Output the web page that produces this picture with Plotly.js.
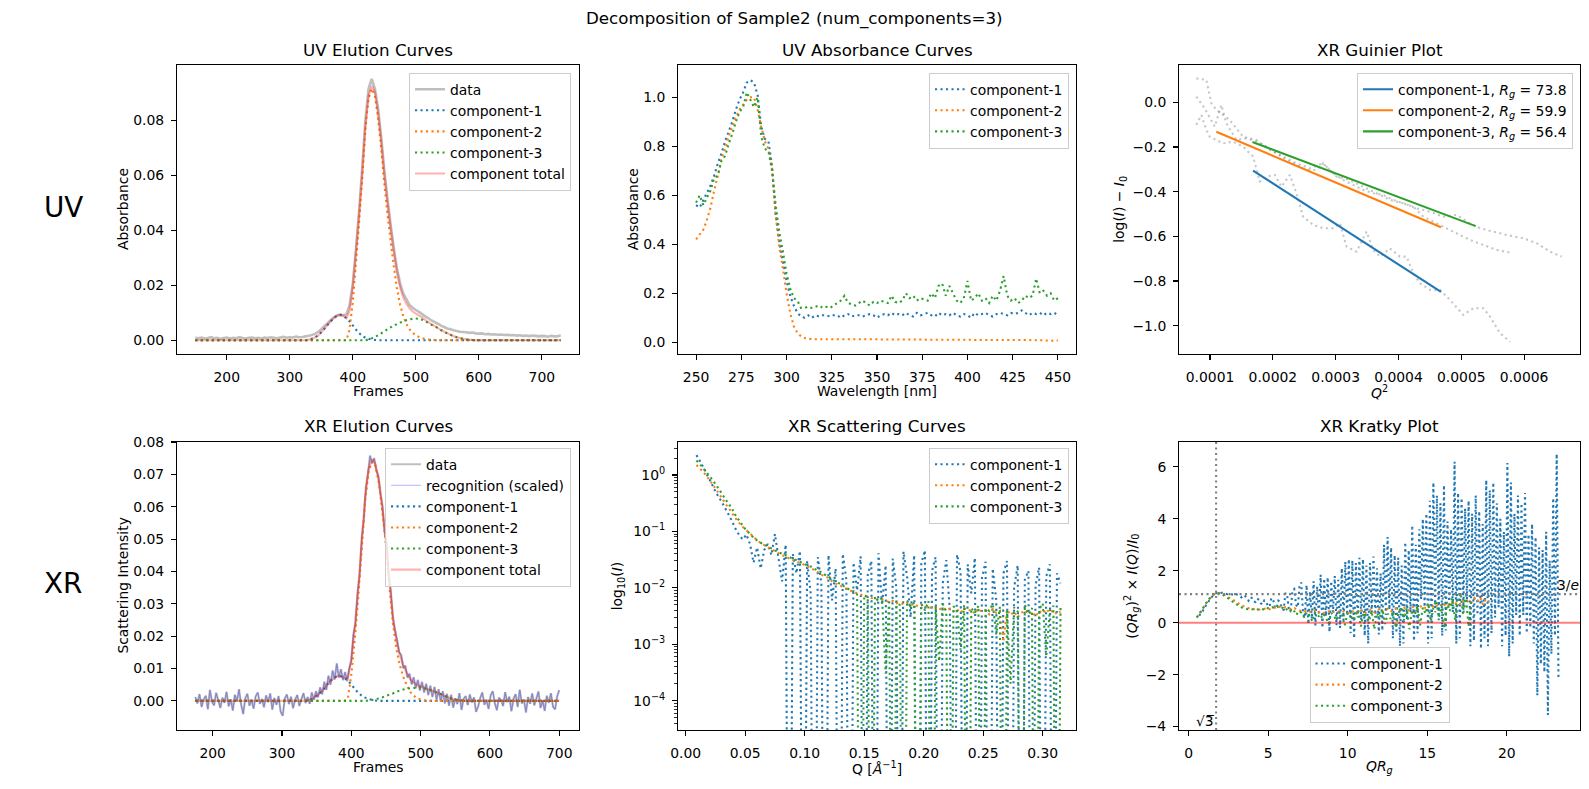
<!DOCTYPE html>
<html>
<head>
<meta charset="utf-8">
<script src="https://cdn.plot.ly/plotly-3.0.1.min.js"></script>
<style>
  html, body { margin: 0; padding: 0; background: #fff; }
  #chart { width: 1589px; height: 789px; }
</style>
</head>
<body>
<div id="chart"></div>
<script>
// ---------------------------------------------------------------
// Decomposition of Sample2 into three components (UV + X-ray)
// ---------------------------------------------------------------

// Evenly spaced sample positions (frames, wavelengths, Q values)
const grid = (start, step, n) => Array.from({ length: n }, (_, i) => +(start + i * step).toFixed(6));

// ---------- UV elution curves (frames 150..730, every 5th frame) ----------
const UV_FRAMES = grid(150, 5, 117);
const UV_DATA = [
  .0009,.0007,.0010,.0006,.0008,.0011,.0007,.0009,.0005,.0008,
  .0010,.0006,.0009,.0007,.0011,.0008,.0006,.0009,.0010,.0007,
  .0009,.0006,.0010,.0008,.0011,.0009,.0007,.0010,.0012,.0009,
  .0011,.0010,.0013,.0011,.0012,.0014,.0016,.0019,.0023,.0031,
  .0040,.0052,.0062,.0074,.0083,.0090,.0093,.0091,.0095,.0128,
  .0205,.0330,.0470,.0625,.0800,.0915,.0950,.0915,.0845,.0740,
  .0618,.0515,.0420,.0335,.0262,.0208,.0170,.0150,.0128,.0118,
  .0110,.0103,.0095,.0087,.0080,.0072,.0066,.0060,.0053,.0048,
  .0043,.0040,.0036,.0034,.0031,.0030,.0029,.0027,.0028,.0025,
  .0024,.0025,.0022,.0023,.0021,.0022,.0020,.0021,.0019,.0020,
  .0018,.0019,.0017,.0018,.0016,.0017,.0015,.0017,.0016,.0014,
  .0016,.0015,.0013,.0016,.0014,.0015,.0017
];
const UV_COMP1 = [
  0,0,0,0,0,0,0,0,0,0,
  0,0,0,0,0,0,0,0,0,0,
  0,0,0,0,0,0,0,0,0,0,
  0,0,0,0,0,0,.0002,.0005,.0010,.0018,
  .0029,.0042,.0056,.0069,.0081,.0089,.0092,.0089,.0080,.0068,
  .0054,.0039,.0026,.0016,.0009,.0005,.0003,.0001,0,0,
  0,0,0,0,0,0,0,0,0,0,
  0,0,0,0,0,0,0,0,0,0,
  0,0,0,0,0,0,0,0,0,0,
  0,0,0,0,0,0,0,0,0,0,
  0,0,0,0,0,0,0,0,0,0,
  0,0,0,0,0,0,0
];
const UV_COMP2 = [
  0,0,0,0,0,0,0,0,0,0,
  0,0,0,0,0,0,0,0,0,0,
  0,0,0,0,0,0,0,0,0,0,
  0,0,0,0,0,0,0,0,0,0,
  0,0,0,0,0,0,0,0,0,.004,
  .014,.028,.043,.059,.077,.088,.0915,.089,.081,.070,
  .057,.046,.036,.027,.019,.013,.0088,.0060,.0040,.0027,
  .0018,.0012,.0008,.0005,.0003,.0002,.0001,0,0,0,
  0,0,0,0,0,0,0,0,0,0,
  0,0,0,0,0,0,0,0,0,0,
  0,0,0,0,0,0,0,0,0,0,
  0,0,0,0,0,0,0
];
const UV_COMP3 = [
  0,0,0,0,0,0,0,0,0,0,
  0,0,0,0,0,0,0,0,0,0,
  0,0,0,0,0,0,0,0,0,0,
  0,0,0,0,0,0,0,0,0,0,
  0,0,0,0,0,0,0,0,0,0,
  0,0,0,0,0,.0003,.0007,.0012,.0018,.0025,
  .0032,.0040,.0047,.0053,.0059,.0064,.0069,.0073,.0076,.0078,
  .0079,.0078,.0075,.0069,.0063,.0056,.0051,.0044,.0037,.0031,
  .0025,.0020,.0015,.0011,.0008,.0005,.0003,.0002,.0001,0,
  0,0,0,0,0,0,0,0,0,0,
  0,0,0,0,0,0,0,0,0,0,
  0,0,0,0,0,0,0
];

// ---------- UV absorbance curves (250..450 nm, every 2 nm) ----------
const WAVELENGTH = grid(250, 2, 101);
const ABS_COMP1 = [
  .56,.55,.58,.61,.64,.68,.73,.77,.82,.86,
  .90,.95,.99,1.02,1.06,1.07,1.06,1.01,.88,.83,
  .82,.72,.52,.41,.33,.25,.19,.15,.12,.105,
  .10,.11,.10,.11,.105,.11,.11,.105,.11,.11,
  .10,.11,.115,.105,.11,.11,.105,.11,.115,.11,
  .10,.11,.115,.11,.12,.11,.115,.11,.12,.11,
  .105,.12,.11,.115,.12,.11,.105,.12,.11,.115,
  .11,.12,.11,.105,.115,.11,.10,.12,.11,.115,
  .12,.11,.105,.115,.12,.115,.11,.12,.115,.12,
  .13,.12,.11,.12,.115,.12,.11,.12,.115,.12,
  .11
];
const ABS_COMP2 = [
  .42,.44,.46,.50,.55,.62,.68,.75,.79,.84,
  .88,.92,.95,.97,.99,1.00,1.00,.95,.88,.82,
  .79,.71,.52,.39,.30,.20,.12,.065,.038,.024,
  .017,.014,.013,.012,.012,.012,.012,.012,.012,.012,
  .012,.012,.012,.012,.012,.012,.012,.012,.012,.012,
  .012,.011,.011,.011,.011,.011,.011,.011,.011,.011,
  .011,.011,.011,.010,.011,.010,.010,.010,.010,.010,
  .010,.010,.010,.010,.010,.010,.010,.009,.010,.009,
  .009,.009,.009,.009,.009,.009,.009,.009,.009,.009,
  .009,.009,.009,.008,.008,.008,.008,.007,.006,.007,
  .007
];
const ABS_COMP3 = [
  .57,.60,.56,.59,.62,.67,.68,.74,.76,.81,
  .85,.90,.94,.96,1.02,.99,.96,1.00,.84,.79,
  .78,.70,.56,.45,.37,.28,.22,.18,.17,.14,
  .14,.145,.14,.145,.15,.14,.145,.14,.15,.16,
  .17,.19,.16,.155,.15,.16,.17,.16,.15,.165,
  .16,.17,.165,.16,.19,.165,.16,.17,.20,.18,
  .19,.17,.18,.175,.17,.20,.18,.23,.24,.19,
  .23,.20,.17,.16,.18,.25,.17,.18,.20,.17,
  .18,.16,.19,.17,.21,.27,.19,.17,.18,.16,
  .17,.19,.18,.19,.26,.20,.21,.19,.20,.17,
  .18
];

// ---------- XR Guinier plot ----------
const RG = [73.8, 59.9, 56.4];                       // radius of gyration per component
const FIT_QSQ_START = [1.685e-4, 1.10e-4, 1.675e-4]; // Guinier fitting interval (Q^2)
const FIT_QSQ_END   = [4.677e-4, 4.677e-4, 5.23e-4];

const GUINIER1_QSQ = [7.82e-5,8.62e-5,9.42e-5,9.95e-5,1.101e-4,1.207e-4,1.367e-4,1.526e-4,1.685e-4,1.792e-4,
  1.898e-4,2.031e-4,2.137e-4,2.270e-4,2.376e-4,2.482e-4,2.642e-4,2.801e-4,2.961e-4,3.067e-4,
  3.173e-4,3.333e-4,3.492e-4,3.598e-4,3.705e-4,3.864e-4,4.023e-4,4.130e-4,4.236e-4,4.342e-4,
  4.502e-4,4.661e-4,4.820e-4,5.033e-4,5.192e-4,5.352e-4,5.458e-4,5.617e-4,5.777e-4];
const GUINIER1_LOG = [-0.101,-0.057,-0.124,-0.154,-0.169,-0.184,-0.176,-0.199,-0.243,-0.355,
  -0.333,-0.325,-0.378,-0.325,-0.407,-0.512,-0.549,-0.564,-0.564,-0.542,
  -0.646,-0.669,-0.579,-0.661,-0.691,-0.654,-0.691,-0.691,-0.766,-0.810,
  -0.840,-0.840,-0.885,-0.952,-0.922,-0.922,-0.960,-1.034,-1.072];
const GUINIER2_QSQ = [7.82e-5,9.15e-5,1.074e-4,1.181e-4,1.260e-4,1.420e-4,1.579e-4,1.739e-4,1.898e-4,2.057e-4,
  2.217e-4,2.376e-4,2.536e-4,2.695e-4,2.801e-4,2.961e-4,3.120e-4,3.279e-4,3.439e-4,3.598e-4,
  3.758e-4,3.917e-4,4.077e-4,4.236e-4,4.395e-4,4.555e-4,4.714e-4,4.927e-4,5.139e-4,5.352e-4,
  5.564e-4,5.777e-4];
const GUINIER2_LOG = [0.025,-0.027,-0.109,-0.012,-0.094,-0.169,-0.161,-0.176,-0.199,-0.228,
  -0.258,-0.281,-0.303,-0.303,-0.273,-0.318,-0.348,-0.370,-0.393,-0.407,
  -0.415,-0.437,-0.452,-0.467,-0.512,-0.534,-0.557,-0.587,-0.616,-0.639,
  -0.661,-0.673];
const GUINIER3_QSQ = [7.82e-5,9.42e-5,1.021e-4,1.101e-4,1.313e-4,1.526e-4,1.739e-4,1.951e-4,2.164e-4,2.376e-4,
  2.589e-4,2.801e-4,3.014e-4,3.226e-4,3.439e-4,3.651e-4,3.864e-4,4.077e-4,4.289e-4,4.502e-4,
  4.714e-4,4.927e-4,5.139e-4,5.299e-4,5.511e-4,5.724e-4,5.989e-4,6.202e-4,6.415e-4,6.601e-4];
const GUINIER3_LOG = [0.107,0.100,-0.004,-0.034,-0.079,-0.154,-0.169,-0.213,-0.243,-0.273,
  -0.296,-0.273,-0.333,-0.348,-0.378,-0.407,-0.437,-0.452,-0.475,-0.490,
  -0.512,-0.504,-0.542,-0.564,-0.579,-0.594,-0.609,-0.631,-0.669,-0.691];

// ---------- XR elution curves ----------
const XR_FRAMES = grid(175, 5, 106);        // component model frames 175..700
const XR_COMP1 = [
  0,0,0,0,0,0,0,0,0,0,
  0,0,0,0,0,0,0,0,0,0,
  0,0,0,0,0,0,0,0,0,0,
  0,0,.0001,.0003,.0008,.0016,.0025,.0036,.0050,.0062,
  .0071,.0077,.0076,.0071,.0063,.0051,.0037,.0025,.0016,.0010,
  .0006,.0003,.0001,0,0,0,0,0,0,0,
  0,0,0,0,0,0,0,0,0,0,
  0,0,0,0,0,0,0,0,0,0,
  0,0,0,0,0,0,0,0,0,0,
  0,0,0,0,0,0,0,0,0,0,
  0,0,0,0,0,0
];
const XR_COMP2 = [
  0,0,0,0,0,0,0,0,0,0,
  0,0,0,0,0,0,0,0,0,0,
  0,0,0,0,0,0,0,0,0,0,
  0,0,0,0,0,0,0,0,0,0,
  0,0,0,0,.0008,.008,.019,.032,.047,.062,
  .071,.074,.0725,.067,.058,.048,.035,.024,.016,.011,
  .0075,.0048,.0028,.0016,.0008,.0004,.0002,0,0,0,
  0,0,0,0,0,0,0,0,0,0,
  0,0,0,0,0,0,0,0,0,0,
  0,0,0,0,0,0,0,0,0,0,
  0,0,0,0,0,0
];
const XR_COMP3 = [
  0,0,0,0,0,0,0,0,0,0,
  0,0,0,0,0,0,0,0,0,0,
  0,0,0,0,0,0,0,0,0,0,
  0,0,0,0,0,0,0,0,0,0,
  0,0,0,0,0,0,0,0,0,0,
  .0001,.0003,.0005,.0008,.0011,.0015,.0019,.0023,.0028,.0032,
  .0035,.0038,.0039,.0040,.0041,.0041,.0039,.0036,.0033,.0029,
  .0024,.0020,.0015,.0011,.0007,.0004,.0002,.0001,0,0,
  0,0,0,0,0,0,0,0,0,0,
  0,0,0,0,0,0,0,0,0,0,
  0,0,0,0,0,0
];
const XR_DATA_FRAMES = grid(175, 3, 176);   // measured frames 175..700
const XR_DATA = [
  .0012,-.0008,.0021,-.0019,.0004,.0016,-.0026,.0034,-.0003,-.0014,
  .0025,.0002,-.0022,.0010,-.0006,.0028,-.0017,.0005,-.0030,.0019,
  -.0002,.0036,-.0011,-.0041,.0008,.0022,-.0015,.0003,-.0024,.0014,
  .0026,-.0009,.0006,-.0020,.0017,-.0004,.0023,-.0027,.0009,-.0012,
  .0015,-.0033,-.0046,.0007,.0020,-.0010,.0013,-.0023,.0004,.0018,
  -.0016,.0005,.0024,-.0007,.0012,-.0009,.0026,.0003,.0030,.0011,
  .0042,.0020,.0059,.0034,.0078,.0050,.0094,.0066,.0116,.0072,
  .0098,.0064,.0089,.0061,.0100,.0122,.0206,.0239,.0335,.0388,
  .0503,.0560,.0660,.0702,.0758,.0734,.0750,.0712,.0695,.0640,
  .0602,.0521,.0489,.0386,.0340,.0254,.0218,.0189,.0150,.0142,
  .0101,.0109,.0072,.0084,.0051,.0073,.0039,.0065,.0032,.0059,
  .0026,.0053,.0018,.0047,.0012,.0043,.0004,.0036,-.0003,.0030,
  -.0008,.0022,-.0015,.0019,-.0021,.0008,-.0010,.0024,-.0028,.0006,
  .0015,-.0013,.0020,-.0005,.0011,-.0034,-.0018,.0009,.0026,-.0012,
  .0003,-.0025,.0017,.0030,-.0007,-.0029,.0010,.0002,-.0016,.0027,
  -.0004,.0013,-.0032,.0006,.0021,-.0019,.0035,-.0008,.0004,-.0036,
  .0012,-.0009,.0023,-.0014,.0007,.0029,-.0022,.0001,-.0031,.0016,
  -.0006,.0024,-.0018,-.0026,.0014,.0033
];

// ---------- XR scattering curves I(Q), Q = 0.009..0.315 1/Å ----------
const Q = grid(0.009, 0.003, 103);
const SCAT_COMP1 = [
  2.25,1.75,1.35,1.00,0.76,0.56,0.43,0.34,0.26,0.20,
  0.15,0.11,0.085,0.072,0.088,0.060,0.028,0.052,0.022,0.047,
  0.060,0.038,0.090,0.033,0.013,0.058,-0.006,0.040,0.018,0.045,
  -0.012,0.030,0.008,-0.004,0.035,0.012,-0.015,0.038,0.006,0.022,
  -0.009,0.040,0.014,-0.020,0.028,0.009,0.036,-0.007,0.017,0.030,
  -0.018,0.041,0.005,0.025,-0.011,0.033,0.010,-0.022,0.044,0.016,
  0.003,0.038,-0.013,0.027,0.046,-0.006,0.020,0.035,-0.025,0.012,
  0.031,0.004,-0.016,0.039,0.019,-0.009,0.026,0.008,0.034,-0.020,
  0.015,0.029,-0.005,0.022,0.006,-0.014,0.018,0.030,-0.028,0.010,
  0.025,-0.008,0.014,0.020,-0.017,0.011,0.023,-0.004,0.016,0.026,
  -0.021,0.018,0.012
];
const SCAT_COMP2 = [
  1.50,1.30,1.12,0.93,0.76,0.62,0.50,0.40,0.32,0.26,
  0.21,0.17,0.14,0.12,0.105,0.092,0.080,0.070,0.062,0.057,
  0.052,0.048,0.045,0.041,0.038,0.036,0.033,0.031,0.029,0.028,
  0.026,0.024,0.022,0.021,0.019,0.017,0.016,0.015,0.013,0.012,
  0.011,0.0105,0.0098,0.0090,0.0085,0.0080,0.0076,0.0072,0.0070,0.0066,
  0.0064,0.0061,0.0063,0.0058,0.0056,0.0059,0.0053,0.0055,0.0051,0.0054,
  0.0049,0.0052,0.0047,0.0050,0.0045,0.0048,0.0043,0.0046,0.0041,0.0045,
  0.0040,0.0043,0.0038,0.0042,0.0036,0.0044,0.0039,0.0041,0.0035,0.0043,
  0.0037,0.0040,0.0034,0.0042,0.0036,0.0039,0.0011,0.0041,0.0033,0.0038,
  0.0030,0.0036,0.0040,0.0034,0.0038,0.0031,0.0039,0.0035,0.0042,0.0036,
  0.0040,0.0034,0.0038
];
const SCAT_COMP3 = [
  1.80,1.55,1.30,1.08,0.90,0.74,0.60,0.48,0.38,0.31,
  0.25,0.19,0.155,0.125,0.105,0.090,0.078,0.069,0.063,0.058,
  0.054,0.050,0.046,0.043,0.040,0.038,0.035,0.033,0.031,0.029,
  0.027,0.025,0.024,0.022,0.020,0.019,0.017,0.016,0.014,0.013,
  0.012,0.011,0.0100,0.0092,0.0087,0.0080,-0.002,0.0075,0.0068,-0.001,
  0.0070,0.0058,0.0066,0.0003,0.0062,-0.003,0.0058,0.0049,-0.002,0.0060,
  0.0046,0.0055,-0.001,0.0052,0.0040,0.0058,-0.003,0.0048,0.0005,0.0052,
  0.0038,-0.002,0.0047,0.0041,0.0008,0.0050,-0.001,0.0044,0.0036,0.0048,
  -0.002,0.0043,0.0039,0.0052,0.0015,0.0046,-0.002,0.0040,0.0002,0.0045,
  0.0038,-0.001,0.0050,0.0034,0.0044,-0.002,0.0041,0.0053,0.0006,0.0040,
  0.0048,-0.001,0.0044
];

// ---------- XR Kratky plot, (QRg)^2 I(Q)/I0 ----------
const KRATKY_Q1 = grid(0.009, 0.0015, 205);  // component-1 is sampled more finely
const KRATKY_COMP1 = [
  0.27,0.36,0.45,0.56,0.68,0.78,0.88,0.97,1.05,1.11,1.15,1.17,1.16,1.15,1.13,1.12,1.10,1.13,1.12,1.08,
  1.05,1.10,1.08,1.02,0.98,1.06,1.05,0.92,0.85,0.99,0.95,0.82,0.80,0.93,0.88,0.75,0.70,0.86,0.82,0.66,
  0.62,0.95,0.90,0.60,0.55,0.85,0.80,0.52,0.50,1.15,1.05,0.48,0.45,1.25,1.30,0.70,0.60,1.40,1.55,0.35,
  0.20,1.45,-0.05,1.20,0.15,1.60,-0.10,1.40,0.30,1.85,-0.20,1.70,0.25,1.75,-0.35,1.60,0.40,1.80,-0.10,1.65,
  -0.20,2.10,0.10,2.35,0.30,2.45,-0.40,2.40,-0.60,2.30,0.20,2.50,0.10,2.45,-0.50,2.20,-0.80,2.30,0.40,2.55,
  0.20,2.10,-0.45,1.90,-0.30,3.00,0.30,3.30,0.50,2.90,-0.60,2.60,-0.40,2.50,-0.90,2.20,-0.80,3.10,0.10,2.80,
  0.40,3.75,-0.70,3.00,-0.40,3.60,0.90,4.00,0.60,4.20,-0.80,4.70,-0.60,5.40,0.40,4.90,0.10,4.60,-0.50,5.30,
  -0.30,3.90,0.60,3.60,0.40,6.20,-0.80,5.00,-0.60,4.80,0.50,4.40,0.80,4.70,-0.90,4.20,-0.70,4.90,0.30,4.30,
  -1.00,3.80,-0.60,5.50,-0.90,5.10,-0.40,5.40,0.20,4.60,0.60,4.00,-0.90,3.50,-0.50,6.15,-1.30,5.40,-0.80,4.20,
  0.30,4.90,-0.50,4.60,0.30,5.00,-0.40,3.40,-0.20,3.80,-0.80,3.30,-2.80,2.90,-1.60,2.80,-1.90,3.50,-3.55,2.40,
  -1.20,4.80,-0.50,6.50,-2.20
];
const KRATKY_COMP2 = [
  0.22,0.38,0.55,0.72,0.88,1.00,1.10,1.15,1.14,1.10,
  1.05,0.98,0.92,0.85,0.78,0.70,0.65,0.60,0.56,0.55,
  0.52,0.53,0.50,0.52,0.55,0.50,0.56,0.58,0.55,0.62,
  0.57,0.60,0.55,0.52,0.56,0.50,0.46,0.50,0.42,0.45,
  0.40,0.48,0.38,0.43,0.36,0.41,0.44,0.37,0.43,0.47,
  0.38,0.42,0.46,0.36,0.40,0.48,0.37,0.44,0.50,0.39,
  0.45,0.52,0.40,0.47,0.54,0.42,0.50,0.56,0.44,0.51,
  0.58,0.46,0.55,0.60,0.48,0.58,0.63,0.50,0.62,0.66,
  0.53,0.65,0.70,0.56,0.68,0.72,0.60,0.75,0.66,0.79,
  0.68,0.80,0.72,0.85,0.75,0.88,0.78,0.95,0.82,0.98,
  0.70,0.92,0.80
];
const KRATKY_COMP3 = [
  0.20,0.34,0.50,0.67,0.83,0.97,1.07,1.13,1.14,1.11,
  1.06,0.99,0.92,0.84,0.76,0.70,0.63,0.58,0.55,0.52,
  0.50,0.52,0.49,0.52,0.55,0.50,0.57,0.55,0.60,0.56,
  0.62,0.54,0.58,0.48,0.56,0.44,0.50,0.30,0.45,0.38,
  0.20,0.42,0.28,0.05,0.40,0.30,0.15,0.35,0.22,-0.05,
  0.38,0.25,0.10,0.42,0.30,-0.10,0.35,0.45,0.08,0.30,
  0.50,-0.15,0.40,0.25,0.05,0.45,-0.25,0.38,0.20,0.52,
  -0.05,0.35,0.15,0.45,-0.20,0.40,0.60,0.10,0.55,-0.25,
  0.50,0.30,0.65,-0.10,0.58,0.35,0.75,0.05,0.62,0.85,
  0.20,0.70,-0.20,0.80,0.45,0.95,0.10,0.85,1.15,0.30,
  1.05,-0.15,0.90
];

// ---------- tick positions ----------
const FRAME_TICKS = [200, 300, 400, 500, 600, 700];
const UV_ELUTION_YTICKS = [0, 0.02, 0.04, 0.06, 0.08];
const WAVELENGTH_TICKS = [250, 275, 300, 325, 350, 375, 400, 425, 450];
const ABSORBANCE_TICKS = [0, 0.2, 0.4, 0.6, 0.8, 1.0];
const QSQ_TICKS = [0.0001, 0.0002, 0.0003, 0.0004, 0.0005, 0.0006];
const GUINIER_YTICKS = [-1.0, -0.8, -0.6, -0.4, -0.2, 0.0];
const XR_ELUTION_YTICKS = [0, 0.01, 0.02, 0.03, 0.04, 0.05, 0.06, 0.07, 0.08];
const Q_TICKS = [0, 0.05, 0.10, 0.15, 0.20, 0.25, 0.30];
const LOG_EXPONENTS = [-4, -3, -2, -1, 0];
const QRG_TICKS = [0, 5, 10, 15, 20];
const KRATKY_YTICKS = [-4, -2, 0, 2, 4, 6];

const COMPONENT_NAMES = ['component-1', 'component-2', 'component-3'];

// ---------------------------------------------------------------
// Figure geometry and styling
// ---------------------------------------------------------------
const W = 1589, H = 789;
const FONT = 'DejaVu Sans, Verdana, sans-serif';
const COLORS = ['#1f77b4', '#ff7f0e', '#2ca02c'];
const DOT = '2.1px,3.4px';
const TICK_SIZE = 13.9, TITLE_SIZE = 16.7;

const px = v => v / W;
const py = v => 1 - v / H;

// axes boxes in pixels: [left, right, top, bottom]
const BOX = {
  uvElution:  [177, 579, 65, 354],
  uvAbs:      [678, 1076, 65, 354],
  guinier:    [1179, 1580, 65, 354],
  xrElution:  [177, 579, 442, 730],
  xrScatter:  [678, 1076, 442, 730],
  kratky:     [1179, 1580, 442, 730]
};

const sum3 = (a, b, c) => a.map((v, i) => v + b[i] + c[i]);
const positiveOrFloor = arr => arr.map(v => (v > 0 ? v : 1e-12)); // log axis clips non-positive values
const times = (arr, k) => arr.map(v => v * k);

function line(x, y, name, color, width, axes, legend, opts) {
  return Object.assign({
    type: 'scatter', mode: 'lines', x, y, name,
    line: { color, width, simplify: false },
    xaxis: axes[0], yaxis: axes[1], legend, hoverinfo: 'skip'
  }, opts || {});
}
function dotted(x, y, name, color, axes, legend, opts) {
  const t = line(x, y, name, color, 2.08, axes, legend, opts);
  t.line.dash = DOT;
  return t;
}

const traces = [];

// UV elution
const uvA = ['x', 'y'];
traces.push(line(UV_FRAMES, UV_DATA, 'data', 'rgba(128,128,128,0.5)', 2.6, uvA, 'legend'));
[UV_COMP1, UV_COMP2, UV_COMP3].forEach((c, i) =>
  traces.push(dotted(UV_FRAMES, c, COMPONENT_NAMES[i], COLORS[i], uvA, 'legend')));
traces.push(line(UV_FRAMES, sum3(UV_COMP1, UV_COMP2, UV_COMP3), 'component total', 'rgba(255,0,0,0.3)', 2.2, uvA, 'legend'));

// UV absorbance
const absA = ['x2', 'y2'];
[ABS_COMP1, ABS_COMP2, ABS_COMP3].forEach((c, i) =>
  traces.push(dotted(WAVELENGTH, c, COMPONENT_NAMES[i], COLORS[i], absA, 'legend2')));

// Guinier: measured points then fitted lines ln I = -Rg^2 Q^2 / 3
const gA = ['x3', 'y3'];
[[GUINIER1_QSQ, GUINIER1_LOG], [GUINIER2_QSQ, GUINIER2_LOG], [GUINIER3_QSQ, GUINIER3_LOG]].forEach(([x, y]) =>
  traces.push(dotted(x, y, 'guinier data', 'rgba(128,128,128,0.45)', gA, 'legend3', { showlegend: false })));
RG.forEach((rg, i) => {
  const xs = [FIT_QSQ_START[i], FIT_QSQ_END[i]];
  traces.push(line(xs, xs.map(q2 => -rg * rg * q2 / 3),
    COMPONENT_NAMES[i] + ', <i>R</i><sub><i>g</i></sub> = ' + rg.toFixed(1), COLORS[i], 2.08, gA, 'legend3'));
});

// XR elution
const xeA = ['x4', 'y4'];
traces.push(line(XR_DATA_FRAMES, XR_DATA, 'data', 'rgba(128,128,128,0.5)', 2.2, xeA, 'legend4'));
traces.push(line(XR_DATA_FRAMES, XR_DATA, 'recognition (scaled)', 'rgba(0,0,255,0.3)', 1.1, xeA, 'legend4'));
[XR_COMP1, XR_COMP2, XR_COMP3].forEach((c, i) =>
  traces.push(dotted(XR_FRAMES, c, COMPONENT_NAMES[i], COLORS[i], xeA, 'legend4')));
traces.push(line(XR_FRAMES, sum3(XR_COMP1, XR_COMP2, XR_COMP3), 'component total', 'rgba(255,0,0,0.3)', 2.2, xeA, 'legend4'));

// XR scattering
const xsA = ['x5', 'y5'];
[SCAT_COMP1, SCAT_COMP2, SCAT_COMP3].forEach((c, i) =>
  traces.push(dotted(Q, positiveOrFloor(c), COMPONENT_NAMES[i], COLORS[i], xsA, 'legend5')));

// Kratky (x = Q * Rg)
const kA = ['x6', 'y6'];
traces.push(dotted(times(KRATKY_Q1, RG[0]), KRATKY_COMP1, COMPONENT_NAMES[0], COLORS[0], kA, 'legend6'));
traces.push(dotted(times(Q, RG[1]), KRATKY_COMP2, COMPONENT_NAMES[1], COLORS[1], kA, 'legend6'));
traces.push(dotted(times(Q, RG[2]), KRATKY_COMP3, COMPONENT_NAMES[2], COLORS[2], kA, 'legend6'));

// ---------------------------------------------------------------
// Axes
// ---------------------------------------------------------------
function axis(box, horizontal, anchor, extra) {
  const dom = horizontal ? [px(box[0]), px(box[1])] : [py(box[3]), py(box[2])];
  return Object.assign({
    domain: dom, anchor,
    showline: true, mirror: true, linecolor: '#000', linewidth: 1.1,
    ticks: 'outside', ticklen: 4.9, tickwidth: 1.1, tickcolor: '#000',
    ticklabelstandoff: horizontal ? 5 : 4,
    showgrid: false, zeroline: false, fixedrange: true,
    tickmode: 'array',
    tickfont: { family: FONT, size: TICK_SIZE, color: '#000' }
  }, extra);
}

const minorLog = [];
for (let e = -5; e <= 0; e++) for (let m = 2; m <= 9; m++) minorLog.push(m * Math.pow(10, e));

const layout = {
  width: W, height: H,
  margin: { l: 0, r: 0, t: 0, b: 0 },
  paper_bgcolor: '#fff', plot_bgcolor: '#fff',
  showlegend: true,
  font: { family: FONT, color: '#000' },

  xaxis:  axis(BOX.uvElution, true, 'y',  { range: [121, 759], tickvals: FRAME_TICKS }),
  yaxis:  axis(BOX.uvElution, false, 'x', { range: [-0.005, 0.1001], tickvals: UV_ELUTION_YTICKS, tickformat: '.2f' }),
  xaxis2: axis(BOX.uvAbs, true, 'y2',  { range: [240, 460], tickvals: WAVELENGTH_TICKS }),
  yaxis2: axis(BOX.uvAbs, false, 'x2', { range: [-0.048, 1.132], tickvals: ABSORBANCE_TICKS, tickformat: '.1f' }),
  xaxis3: axis(BOX.guinier, true, 'y3',  { range: [0.0000506, 0.000689], tickvals: QSQ_TICKS, tickformat: '.4f' }),
  yaxis3: axis(BOX.guinier, false, 'x3', { range: [-1.127, 0.167], tickvals: GUINIER_YTICKS, tickformat: '.1f' }),
  xaxis4: axis(BOX.xrElution, true, 'y4',  { range: [148.5, 728.5], tickvals: FRAME_TICKS }),
  yaxis4: axis(BOX.xrElution, false, 'x4', { range: [-0.009, 0.08], tickvals: XR_ELUTION_YTICKS, tickformat: '.2f' }),
  xaxis5: axis(BOX.xrScatter, true, 'y5',  { range: [-0.0065, 0.328], tickvals: Q_TICKS, tickformat: '.2f' }),
  yaxis5: axis(BOX.xrScatter, false, 'x5', {
    type: 'log', range: [-4.52, 0.585],
    tickvals: LOG_EXPONENTS.map(e => Math.pow(10, e)),
    ticktext: LOG_EXPONENTS.map(e => '10<sup>' + (e < 0 ? '\u2212' + (-e) : e) + '</sup>'),
    minor: { tickmode: 'array', tickvals: minorLog, ticks: 'outside', ticklen: 2.8, tickwidth: 0.8, tickcolor: '#000', showgrid: false }
  }),
  xaxis6: axis(BOX.kratky, true, 'y6',  { range: [-0.6, 24.6], tickvals: QRG_TICKS }),
  yaxis6: axis(BOX.kratky, false, 'x6', { range: [-4.13, 6.96], tickvals: KRATKY_YTICKS }),

  shapes: [],
  annotations: []
};

// Legends
function legendAt(xPix, yPix, xanchor, yanchor) {
  return {
    x: px(xPix), y: py(yPix), xref: 'paper', yref: 'paper', xanchor, yanchor,
    bgcolor: 'rgba(255,255,255,0.8)', bordercolor: '#cccccc', borderwidth: 1,
    font: { family: FONT, size: TICK_SIZE, color: '#000' },
    tracegroupgap: 0, itemwidth: 30
  };
}
layout.legend  = legendAt(571, 72.7, 'right', 'top');
layout.legend2 = legendAt(1069, 72.7, 'right', 'top');
layout.legend3 = legendAt(1573, 72.7, 'right', 'top');
layout.legend4 = legendAt(571, 447.7, 'right', 'top');
layout.legend5 = legendAt(1069, 447.7, 'right', 'top');
layout.legend6 = legendAt((BOX.kratky[0] + BOX.kratky[1]) / 2, 723, 'center', 'bottom');

// Kratky reference lines
const SQRT3 = Math.sqrt(3), THREE_OVER_E = 3 / Math.E;
layout.shapes.push(
  { type: 'line', xref: 'x6 domain', yref: 'y6', x0: 0, x1: 1, y0: 0, y1: 0,
    line: { color: 'rgba(255,0,0,0.5)', width: 2.08 }, layer: 'above' },
  { type: 'line', xref: 'x6', yref: 'y6 domain', x0: SQRT3, x1: SQRT3, y0: 0, y1: 1,
    line: { color: 'rgba(128,128,128,1)', width: 2.08, dash: DOT }, layer: 'above' },
  { type: 'line', xref: 'x6 domain', yref: 'y6', x0: 0, x1: 1, y0: THREE_OVER_E, y1: THREE_OVER_E,
    line: { color: 'rgba(128,128,128,1)', width: 2.08, dash: DOT }, layer: 'above' }
);
layout.annotations.push(
  { xref: 'x6', yref: 'y6 domain', x: SQRT3, y: 0, xanchor: 'right', yanchor: 'bottom',
    text: '\u221A3\u0305', showarrow: false, font: { family: FONT, size: TICK_SIZE, color: '#000' }, borderpad: 0 },
  { xref: 'x6 domain', yref: 'y6', x: 1, y: THREE_OVER_E, xanchor: 'right', yanchor: 'bottom',
    text: '3/<i>e</i>', showarrow: false, font: { family: FONT, size: TICK_SIZE, color: '#000' }, borderpad: 0 }
);

// Text labels placed in pixel space
function text(t, xPix, yPix, size, opts) {
  layout.annotations.push(Object.assign({
    text: t, x: px(xPix), y: py(yPix), xref: 'paper', yref: 'paper',
    xanchor: 'center', yanchor: 'middle', showarrow: false,
    font: { family: FONT, size, color: '#000' }
  }, opts || {}));
}
const cx = b => (b[0] + b[1]) / 2;
const cy = b => (b[2] + b[3]) / 2;

text('Decomposition of Sample2 (num_components=3)', W / 2, 18.3, TITLE_SIZE);

text('UV Elution Curves', cx(BOX.uvElution), 50, TITLE_SIZE);
text('UV Absorbance Curves', cx(BOX.uvAbs), 50, TITLE_SIZE);
text('XR Guinier Plot', cx(BOX.guinier), 50, TITLE_SIZE);
text('XR Elution Curves', cx(BOX.xrElution), 426, TITLE_SIZE);
text('XR Scattering Curves', cx(BOX.xrScatter), 426, TITLE_SIZE);
text('XR Kratky Plot', cx(BOX.kratky), 426, TITLE_SIZE);

text('UV', 63, 207, 27.8);
text('XR', 63, 583, 27.8);

text('Frames', cx(BOX.uvElution), 391, TICK_SIZE);
text('Wavelength [nm]', cx(BOX.uvAbs), 391, TICK_SIZE);
text('<i>Q</i><sup>2</sup>', cx(BOX.guinier), 392, TICK_SIZE);
text('Frames', cx(BOX.xrElution), 767, TICK_SIZE);
text('Q [<i>Å</i><sup>\u22121</sup>]', cx(BOX.xrScatter), 768, TICK_SIZE);
text('<i>QR</i><sub><i>g</i></sub>', cx(BOX.kratky), 767, TICK_SIZE);

const vert = { textangle: -90 };
text('Absorbance', 122.6, cy(BOX.uvElution), TICK_SIZE, vert);
text('Absorbance', 632.7, cy(BOX.uvAbs), TICK_SIZE, vert);
text('log(<i>I</i>) \u2212 <i>I</i><sub>0</sub>', 1119.3, cy(BOX.guinier), TICK_SIZE, vert);
text('Scattering Intensity', 122.6, cy(BOX.xrElution), TICK_SIZE, vert);
text('log<sub>10</sub>(<i>I</i>)', 618.3, cy(BOX.xrScatter), TICK_SIZE, vert);
text('(<i>QR</i><sub><i>g</i></sub>)<sup>2</sup> \u00D7 <i>I</i>(<i>Q</i>)/<i>I</i><sub>0</sub>', 1131.7, cy(BOX.kratky), TICK_SIZE, vert);

Plotly.newPlot('chart', traces, layout, { displayModeBar: false, staticPlot: true });
</script>
</body>
</html>
